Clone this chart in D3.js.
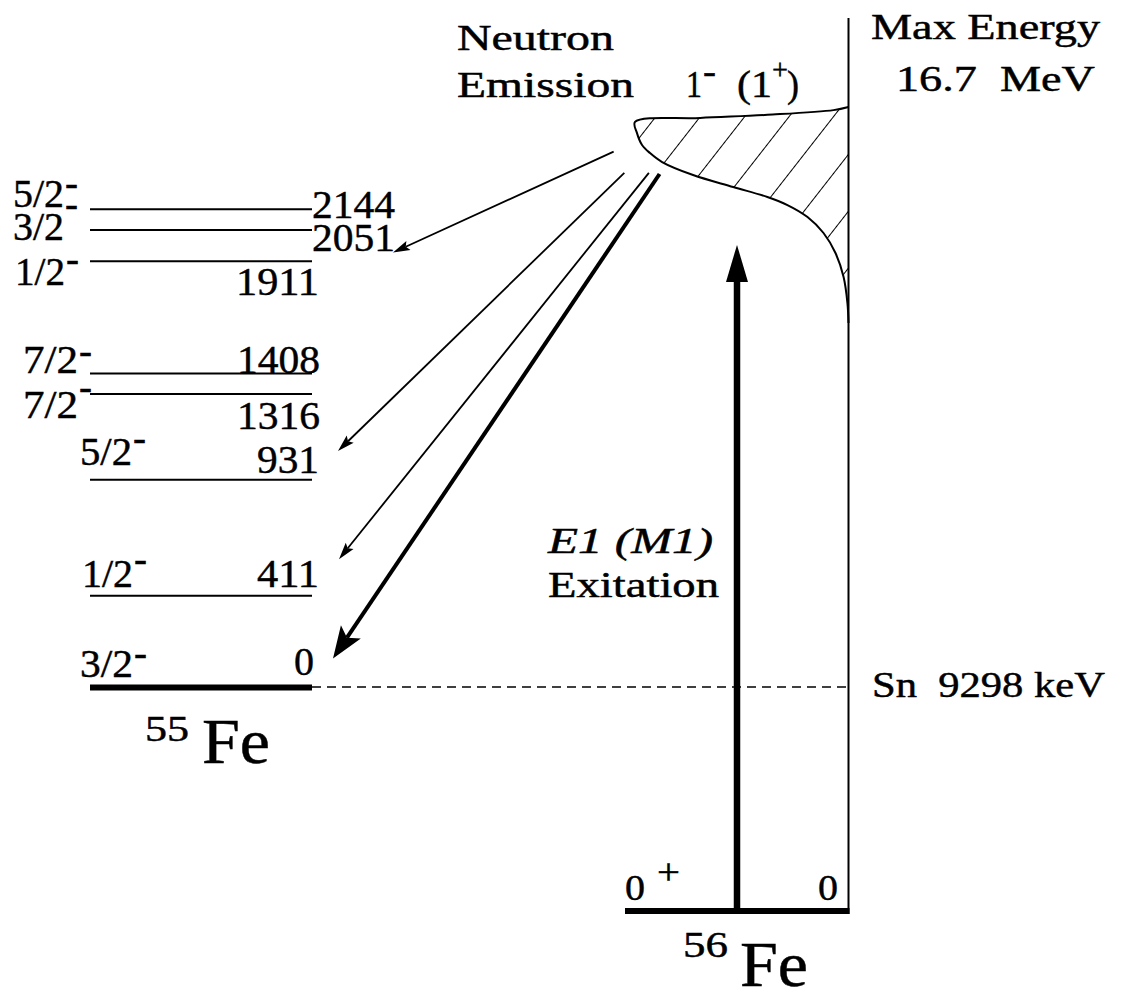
<!DOCTYPE html>
<html>
<head>
<meta charset="utf-8">
<script src="https://cdn.jsdelivr.net/npm/d3@7"></script>
<style>
  html, body { margin: 0; padding: 0; background: #fff; }
  svg { display: block; }
  text { font-family: "Liberation Serif", "Times New Roman", "Nimbus Roman", "FreeSerif", "DejaVu Serif", serif; fill: #000; stroke: #000; stroke-width: 0.45px; }
</style>
</head>
<body>
<svg id="chart" width="1130" height="990"></svg>
<script>
// ---- 55Fe level scheme (keV) ----
const levelEnergies = [0, 411, 931, 1316, 1408, 1911, 2051, 2144];
const levelSpins    = ["3/2", "1/2", "5/2", "7/2", "7/2", "1/2", "3/2", "5/2"];
const levelParities = ["-", "-", "-", "-", "-", "-", "-", "-"];
const levelLabels   = ["0", "411", "931", "1316", "1408", "1911", "2051", "2144"];

// ---- 56Fe ----
const groundSpin56 = "0";
const groundParity56 = "+";
const groundLabel56 = "0";
const separationEnergy = 9298;   // neutron separation energy, keV
const maxEnergy = 16700;         // keV
const excitationTop = 14940;     // keV reached by the E1 (M1) arrow

// dipole strength distribution outline: relative width, excitation energy (keV)
const strengthWidth  = [0, 0.07, 0.38, 0.695, 1.0, 0.991, 0.967, 0.930, 0.873, 0.728, 0.540, 0.380, 0.286, 0.192, 0.117, 0.061, 0.023, 0.005, 0];
const strengthEnergy = [16700, 16660, 16600, 16560, 16510, 16370, 16215, 16113, 15998, 15832, 15679, 15551, 15449, 15296, 15092, 14837, 14530, 14198, 13943];

// neutron emission branches: start in the 56Fe frame, end in the 55Fe frame
const emissionFromWidth  = [1.10, 1.05, 0.935, 0.885];
const emissionFromEnergy = [16130, 15860, 15860, 15845];
const emissionToEnergy   = [1950, 1060, 575, 130];
const emissionStrong     = [false, false, false, true];

// ---- scales ----
const svg = d3.select("#chart");
const yLow  = d3.scaleLinear().domain([0, 2144]).range([687.4, 209.3]);               // 55Fe energies
const yHigh = d3.scaleLinear().domain([0, separationEnergy, maxEnergy]).range([911, 687, 107]); // 56Fe energies
const xWidth = d3.scaleLinear().domain([0, 1]).range([848.5, 635]);                   // strength width

const levelX0 = 90, levelX1 = 312;
const axisX = xWidth(0);

// label layout per 55Fe level (same order as levelEnergies)
const spinLayout = [
  { x: 80, w: 53, dy: -10, sup: 20 },
  { x: 82, w: 51, dy: -9,  sup: 24 },
  { x: 80, w: 52, dy: -15, sup: 23 },
  { x: 23, w: 55, dy: 24,  sup: 27 },
  { x: 23, w: 55, dy: 0,   sup: 18 },
  { x: 15, w: 50, dy: 24,  sup: 22 },
  { x: 13, w: 51, dy: 10,  sup: 32 },
  { x: 13, w: 51, dy: -2,  sup: 20 }
];
const numLayout = [
  { x: 314, anchor: "end", dy: -12 },
  { x: 319, anchor: "end", dy: -9 },
  { x: 319, anchor: "end", dy: -7 },
  { x: 320, anchor: "end", dy: 35 },
  { x: 320, anchor: "end", dy: 0 },
  { x: 319, anchor: "end", dy: 34 },
  { x: 312, anchor: "start", dy: 21 },
  { x: 312, anchor: "start", dy: 9 }
];
const arrowTipX = [393, 338, 339, 333];

// ---- helpers ----
function label(x, y, str, size, opts = {}) {
  const t = svg.append("text")
    .attr("x", x).attr("y", y)
    .attr("font-size", size)
    .attr("text-anchor", opts.anchor || "start")
    .attr("font-style", opts.italic ? "italic" : "normal")
    .text(str);
  if (opts.width) t.attr("textLength", opts.width).attr("lengthAdjust", "spacingAndGlyphs");
  return t;
}

function arrow(x1, y1, x2, y2, lw, L, W, notch) {
  const dx = x2 - x1, dy = y2 - y1, len = Math.hypot(dx, dy);
  const ux = dx / len, uy = dy / len, vx = -uy, vy = ux;
  const bx = x2 - L * ux, by = y2 - L * uy;
  const nx = x2 - (L - notch) * ux, ny = y2 - (L - notch) * uy;
  svg.append("line")
    .attr("x1", x1).attr("y1", y1).attr("x2", nx).attr("y2", ny)
    .attr("stroke", "#000").attr("stroke-width", lw);
  svg.append("path")
    .attr("d", d3.line()([[x2, y2], [bx + W * vx, by + W * vy], [nx, ny], [bx - W * vx, by - W * vy]]) + "Z")
    .attr("fill", "#000");
}

// ---- 55Fe levels ----
levelEnergies.forEach((e, i) => {
  const y = yLow(e);
  svg.append("line")
    .attr("x1", levelX0).attr("x2", levelX1)
    .attr("y1", y).attr("y2", y)
    .attr("stroke", "#000")
    .attr("stroke-width", e === 0 ? 6 : 2);

  const s = spinLayout[i];
  label(s.x, y + s.dy, levelSpins[i], 39, { width: s.w });
  label(s.x + s.w + 1, y + s.dy - s.sup + 9, levelParities[i], 40, { width: 13 });

  const n = numLayout[i];
  label(n.x, y + n.dy, levelLabels[i], 40, { anchor: n.anchor, width: 21 * levelLabels[i].length - 1 });
});

// ground-state name
label(145, 741, "55", 35, { width: 44 });
label(202, 763, "Fe", 64, { width: 68 });

// ---- neutron separation threshold ----
svg.append("line")
  .attr("x1", levelX1).attr("x2", axisX)
  .attr("y1", yHigh(separationEnergy)).attr("y2", yHigh(separationEnergy))
  .attr("stroke", "#000").attr("stroke-width", 1.5)
  .attr("stroke-dasharray", "9,6");
label(872, yHigh(separationEnergy) + 10, "Sn\u00a0\u00a09298 keV", 35, { width: 233 });

// ---- 56Fe energy axis and ground state ----
svg.append("line")
  .attr("x1", axisX).attr("x2", axisX)
  .attr("y1", 18).attr("y2", yHigh(0) + 3)
  .attr("stroke", "#000").attr("stroke-width", 2);

svg.append("line")
  .attr("x1", 625).attr("x2", axisX + 1)
  .attr("y1", yHigh(0)).attr("y2", yHigh(0))
  .attr("stroke", "#000").attr("stroke-width", 6);

label(625, yHigh(0) - 11, groundSpin56, 36, { width: 20 });
label(657, yHigh(0) - 27, groundParity56, 36, { width: 23 });
label(838, yHigh(0) - 11, groundLabel56, 36, { anchor: "end", width: 20 });

label(683, 957, "56", 35, { width: 45 });
label(740, 986, "Fe", 64, { width: 68 });

// ---- strength distribution (hatched) ----
const outline = strengthWidth.map((w, i) => [xWidth(w), yHigh(strengthEnergy[i])]);
const outlinePath = d3.line().curve(d3.curveCatmullRom.alpha(0.5))(outline);

const defs = svg.append("defs");
const pat = defs.append("pattern")
  .attr("id", "hatch")
  .attr("patternUnits", "userSpaceOnUse")
  .attr("width", 35).attr("height", 35)
  .attr("patternTransform", "translate(697,120) rotate(38)");
pat.append("line")
  .attr("x1", 0).attr("y1", 0).attr("x2", 0).attr("y2", 35)
  .attr("stroke", "#000").attr("stroke-width", 2);

svg.append("path")
  .attr("d", outlinePath + "Z")
  .attr("fill", "url(#hatch)")
  .attr("stroke", "none");
svg.append("path")
  .attr("d", outlinePath)
  .attr("fill", "none")
  .attr("stroke", "#000").attr("stroke-width", 2);

// ---- E1 (M1) excitation arrow ----
const exX = 737;
svg.append("line")
  .attr("x1", exX).attr("x2", exX)
  .attr("y1", yHigh(0)).attr("y2", yHigh(excitationTop) + 30)
  .attr("stroke", "#000").attr("stroke-width", 6.5);
svg.append("path")
  .attr("d", d3.line()([[exX, yHigh(excitationTop)], [exX + 11, yHigh(excitationTop) + 37], [exX - 11, yHigh(excitationTop) + 37]]) + "Z")
  .attr("fill", "#000");

label(548, 553, "E1 (M1)", 35, { italic: true, width: 165 });
label(548, 597, "Exitation", 35, { width: 171 });

// ---- neutron emission arrows ----
emissionToEnergy.forEach((e, i) => {
  const x1 = xWidth(emissionFromWidth[i]), y1 = yHigh(emissionFromEnergy[i]);
  const x2 = arrowTipX[i], y2 = yLow(e);
  if (emissionStrong[i]) arrow(x1, y1, x2, y2, 4, 32, 12, 7);
  else arrow(x1, y1, x2, y2, 1.8, 17, 5, 3);
});

// ---- headings ----
label(457, 50, "Neutron", 35, { width: 157 });
label(457, 97, "Emission", 35, { width: 177 });

label(686, 97, "1", 38, { width: 16 });
label(703, 84, "-", 38, { width: 13 });
label(737, 97, "(1", 38, { width: 35 });
label(772, 79, "+", 30, { width: 16 });
label(787, 97, ")", 38, { width: 12 });

label(871, 39, "Max Energy", 35, { width: 229 });
label(896, 91, "16.7\u00a0\u00a0MeV", 35, { width: 199 });
</script>
</body>
</html>
